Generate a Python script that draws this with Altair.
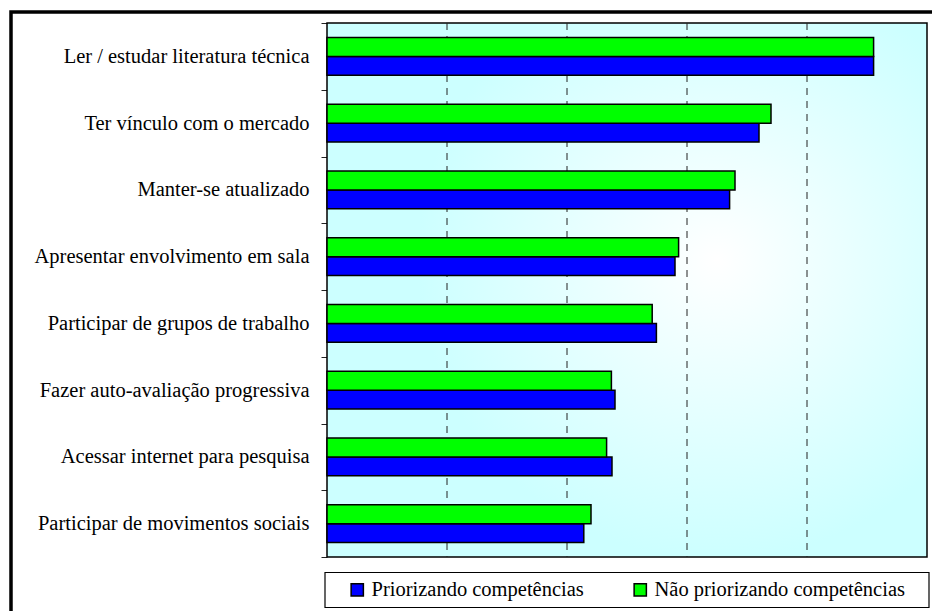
import altair as alt
import pandas as pd

# Activities and the share (%) reported by each group
categorias = [
    "Ler / estudar literatura técnica",
    "Ter vínculo com o mercado",
    "Manter-se atualizado",
    "Apresentar envolvimento em sala",
    "Participar de grupos de trabalho",
    "Fazer auto-avaliação progressiva",
    "Acessar internet para pesquisa",
    "Participar de movimentos sociais",
]
priorizando = [91.1, 72.0, 67.1, 58.0, 54.9, 48.0, 47.5, 42.8]
nao_priorizando = [91.1, 74.0, 68.0, 58.6, 54.2, 47.4, 46.6, 44.0]

series = ["Priorizando competências", "Não priorizando competências"]
cores = ["#0000FF", "#00FF00"]
grade = [20, 40, 60, 80]

rows = []
for c, p, n in zip(categorias, priorizando, nao_priorizando):
    rows.append({"item": c, "grupo": series[0], "valor": p})
    rows.append({"item": c, "grupo": series[1], "valor": n})
df = pd.DataFrame(rows)

W, H = 600, 534
FONT = "Liberation Serif"
x_scale = alt.Scale(domain=[0, 100], nice=False, zero=True)
um = alt.Data(values=[{}])

# plot-area background with a soft radial shading
fundo = alt.Chart(um).mark_rect(
    fill=alt.RadialGradient(
        gradient="radial",
        stops=[alt.GradientStop(color="#FFFFFF", offset=0),
               alt.GradientStop(color="#CCFFFF", offset=1)],
        x1=0.65, y1=0.45, x2=0.65, y2=0.45, r1=0, r2=0.5,
    ),
    stroke="black", strokeWidth=1.5,
).encode(x=alt.value(0), x2=alt.value(W), y=alt.value(0), y2=alt.value(H))

# dashed vertical gridlines
linhas = alt.Chart(pd.DataFrame({"v": grade})).mark_rule(
    color="#222222", strokeDash=[7, 6], strokeWidth=1
).encode(
    x=alt.X("v:Q", scale=x_scale, axis=None),
    y=alt.value(0), y2=alt.value(H),
)

barras = alt.Chart(df).mark_bar(stroke="black", strokeWidth=1.5, opacity=1).encode(
    x=alt.X("valor:Q", scale=x_scale, axis=None),
    y=alt.Y(
        "item:N", sort=categorias,
        scale=alt.Scale(paddingInner=0, paddingOuter=0),
        axis=alt.Axis(
            title=None, tickBand="extent", tickSize=6, tickColor="#222222",
            labelPadding=12, labelFontSize=20.5, labelFont=FONT,
            labelColor="black", domain=False, labelLimit=400,
        ),
    ),
    yOffset=alt.YOffset(
        "grupo:N", sort=[series[1], series[0]],
        scale=alt.Scale(paddingInner=0, paddingOuter=0.757),
    ),
    color=alt.Color(
        "grupo:N",
        scale=alt.Scale(domain=series, range=cores),
        legend=alt.Legend(
            title=None, orient="none", legendX=20, legendY=556.5,
            direction="horizontal", symbolType="square", symbolSize=150,
            symbolStrokeColor="black", symbolStrokeWidth=1.5, symbolOpacity=1,
            labelFont=FONT, labelFontSize=20.5, labelColor="black",
            labelOffset=4, columnPadding=46, padding=0, labelLimit=400,
        ),
    ),
)

# box around the legend
caixa_legenda = alt.Chart(um).mark_rect(
    fill="white", stroke="black", strokeWidth=1.2
).encode(x=alt.value(-2), x2=alt.value(602), y=alt.value(549.5), y2=alt.value(584.5))

# heavy outer frame of the figure
moldura = alt.Chart(um).mark_rect(
    fillOpacity=0, stroke="black", strokeWidth=3.5
).encode(x=alt.value(-316), x2=alt.value(700), y=alt.value(-11), y2=alt.value(700))

chart = alt.layer(fundo, linhas, barras, caixa_legenda, moldura).properties(
    width=W, height=H,
    padding={"left": 327, "top": 23, "right": 5, "bottom": 54},
    autosize=alt.AutoSizeParams(type="none"),
    background="white",
).configure_view(stroke=None)

chart.save("out.html", embed_options={"renderer": "svg", "actions": False})
